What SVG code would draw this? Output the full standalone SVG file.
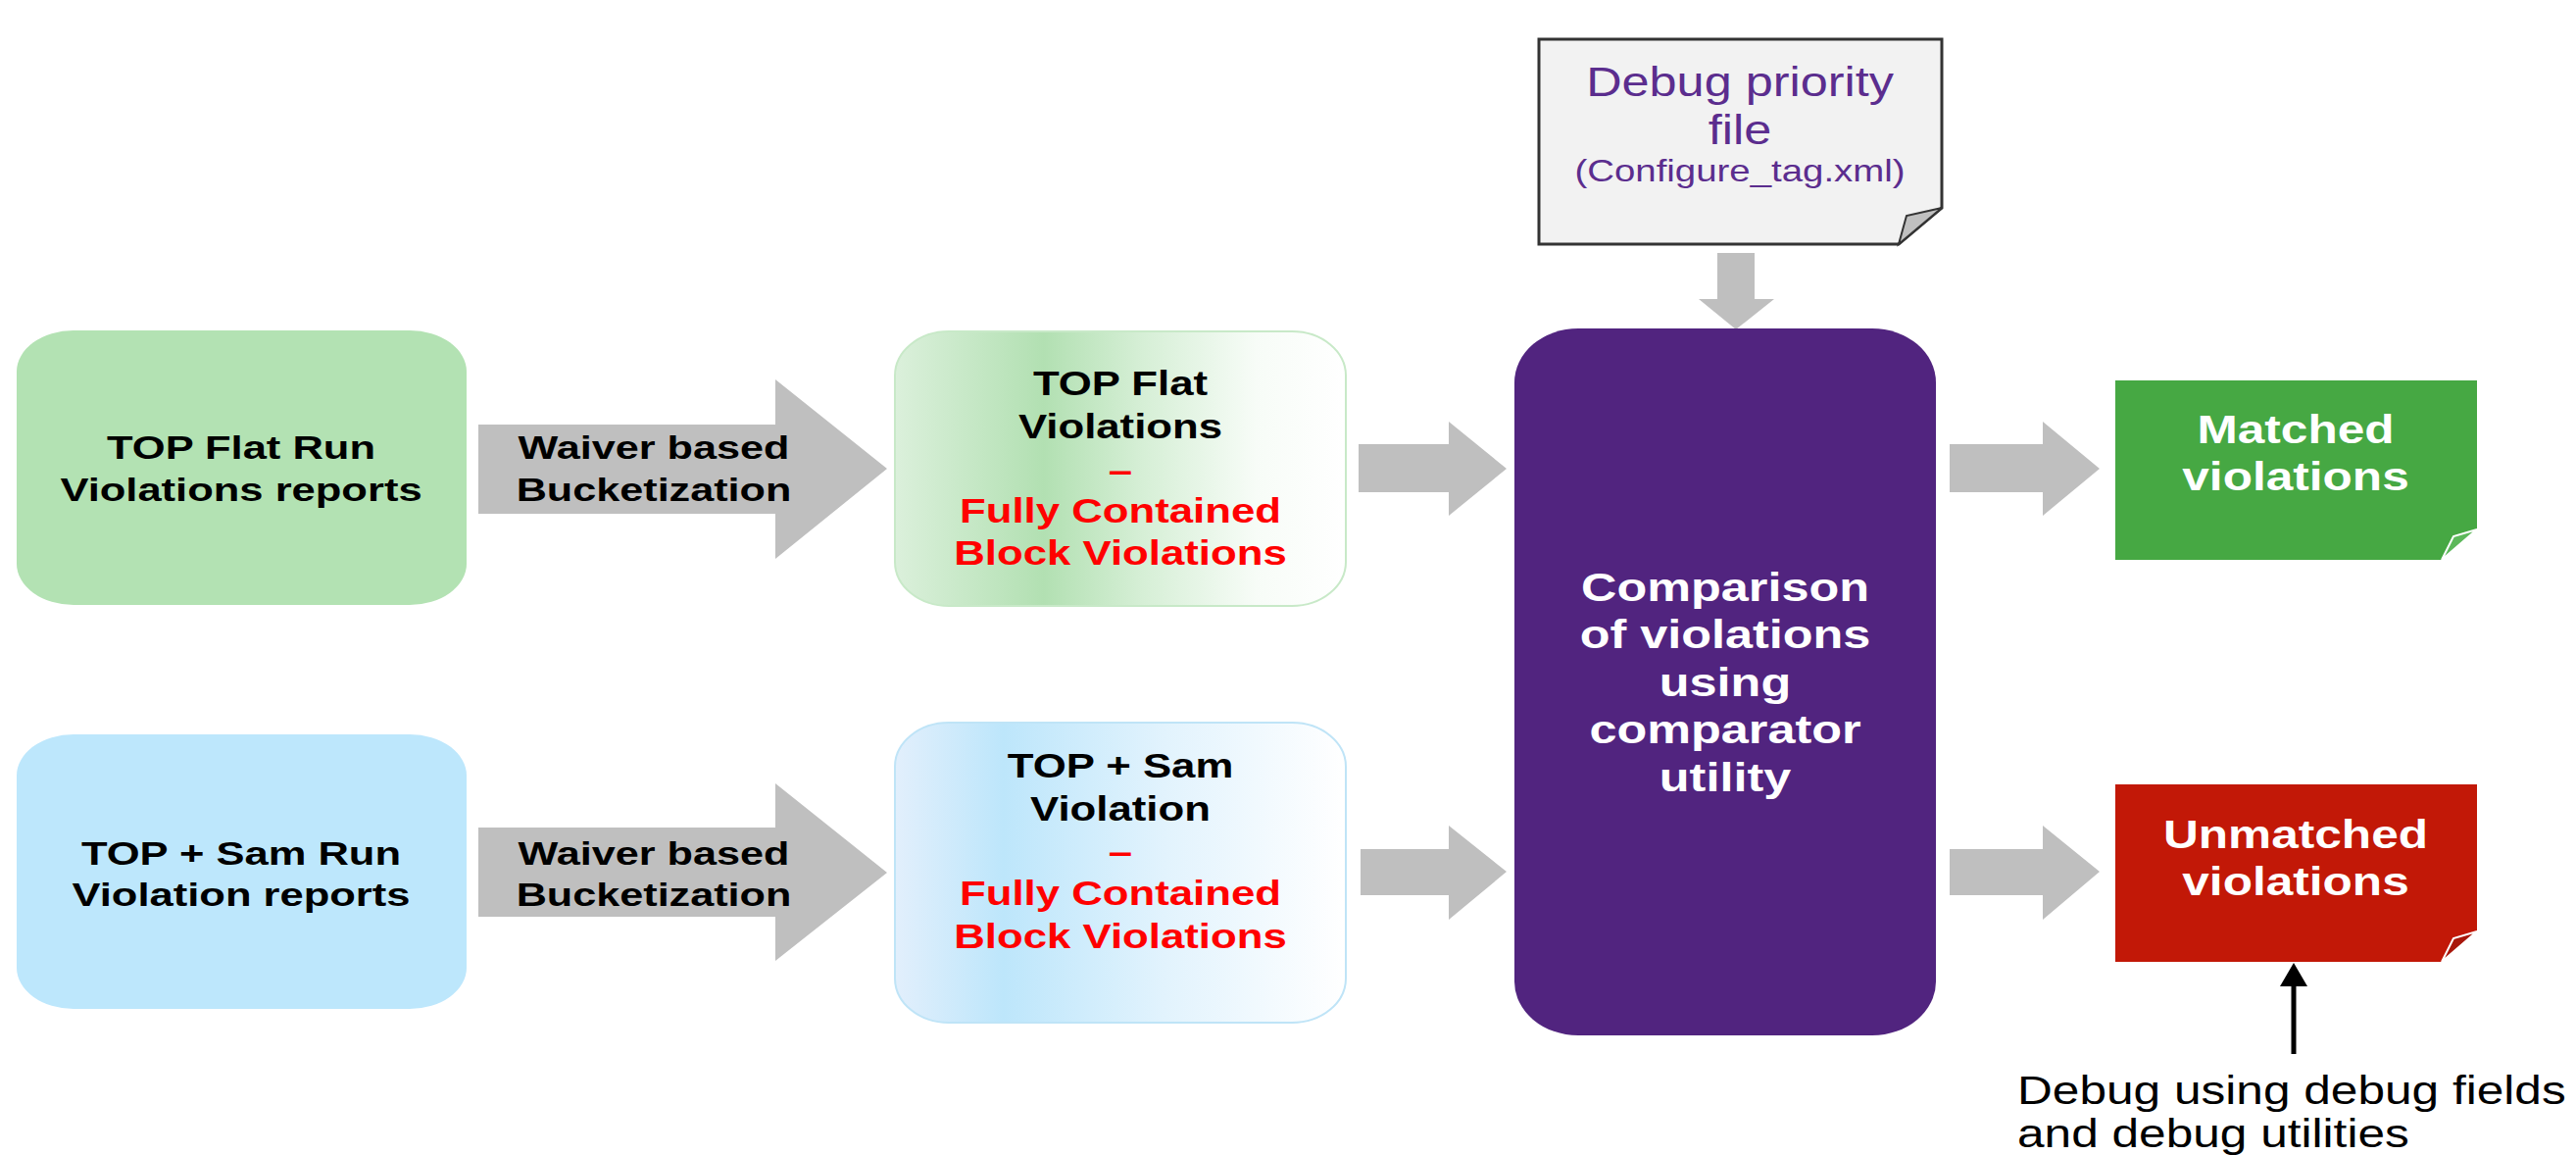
<svg xmlns="http://www.w3.org/2000/svg" width="2628" height="1178" viewBox="0 0 2628 1178">
<defs>
<linearGradient id="gGreen" x1="0" y1="0" x2="1" y2="0">
<stop offset="0" stop-color="#dbf0db"/>
<stop offset="0.33" stop-color="#b2e0b2"/>
<stop offset="0.55" stop-color="#d6efd6"/>
<stop offset="0.8" stop-color="#f7fcf7"/>
<stop offset="1" stop-color="#ffffff"/>
</linearGradient>
<linearGradient id="gBlue" x1="0" y1="0" x2="1" y2="0">
<stop offset="0" stop-color="#e2effc"/>
<stop offset="0.24" stop-color="#bde6fb"/>
<stop offset="0.6" stop-color="#e2f3fd"/>
<stop offset="1" stop-color="#ffffff"/>
</linearGradient>
</defs>
<style>
.b{font-family:"Liberation Sans",Arial,sans-serif;font-weight:bold;text-anchor:middle}
.r{font-family:"Liberation Sans",Arial,sans-serif;text-anchor:middle}
.blk{fill:#000}
.red{fill:#ff0000}
.wht{fill:#ffffff}
.pur{fill:#5b2d8e}
.garrow{fill:#bfbfbf}
</style>
<rect width="2628" height="1178" fill="#ffffff"/>

<g id="connectors">
<polygon class="garrow" points="488,433 791,433 791,387 905,478 791,570 791,524 488,524"/>
<polygon class="garrow" points="488,844 791,844 791,799 905,890 791,980 791,935 488,935"/>
<polygon class="garrow" points="1386,453 1478,453 1478,430 1537,478 1478,526 1478,502 1386,502"/>
<polygon class="garrow" points="1388,866 1478,866 1478,842 1537,889 1478,938 1478,913 1388,913"/>
<polygon class="garrow" points="1989,453 2084,453 2084,430 2142,478 2084,526 2084,502 1989,502"/>
<polygon class="garrow" points="1989,866 2084,866 2084,842 2142,889 2084,938 2084,913 1989,913"/>
<polygon class="garrow" points="1752,258 1790,258 1790,305 1810,305 1771,336 1733,305 1752,305"/>
<line x1="2340" y1="1075" x2="2340" y2="1002" stroke="#000" stroke-width="5"/>
<polygon points="2340,982 2326,1006 2354,1006" fill="#000"/>
</g>

<g id="waiver1">
<g transform="translate(667 0) scale(1.27 1)">
<text class="b blk" x="0" y="468" font-size="34">Waiver based</text>
<text class="b blk" x="0" y="511" font-size="34">Bucketization</text>
</g>
</g>
<g id="waiver2">
<g transform="translate(667 0) scale(1.27 1)">
<text class="b blk" x="0" y="882" font-size="34">Waiver based</text>
<text class="b blk" x="0" y="924" font-size="34">Bucketization</text>
</g>
</g>

<g id="topFlatRun">
<rect x="17" y="337" width="459" height="280" rx="58" ry="42" fill="#b3e2b3"/>
<g transform="translate(246 0) scale(1.28 1)">
<text class="b blk" x="0" y="468" font-size="34">TOP Flat Run</text>
<text class="b blk" x="0" y="511" font-size="34">Violations reports</text>
</g>
</g>

<g id="topSamRun">
<rect x="17" y="749" width="459" height="280" rx="58" ry="42" fill="#bde7fc"/>
<g transform="translate(246 0) scale(1.28 1)">
<text class="b blk" x="0" y="882" font-size="34">TOP + Sam Run</text>
<text class="b blk" x="0" y="924" font-size="34">Violation reports</text>
</g>
</g>

<g id="topFlatViolations">
<rect x="913" y="338" width="460" height="280" rx="55" ry="45" fill="url(#gGreen)" stroke="#c8e9c8" stroke-width="2"/>
<g transform="translate(1143 0) scale(1.25 1)">
<text class="b blk" x="0" y="403" font-size="35">TOP Flat</text>
<text class="b blk" x="0" y="447" font-size="35">Violations</text>
<text class="b red" x="0" y="492" font-size="35">–</text>
<text class="b red" x="0" y="533" font-size="35">Fully Contained</text>
<text class="b red" x="0" y="576" font-size="35">Block Violations</text>
</g>
</g>

<g id="topSamViolation">
<rect x="913" y="737" width="460" height="306" rx="55" ry="45" fill="url(#gBlue)" stroke="#bfe4f7" stroke-width="2"/>
<g transform="translate(1143 0) scale(1.25 1)">
<text class="b blk" x="0" y="793" font-size="35">TOP + Sam</text>
<text class="b blk" x="0" y="837" font-size="35">Violation</text>
<text class="b red" x="0" y="881" font-size="35">–</text>
<text class="b red" x="0" y="923" font-size="35">Fully Contained</text>
<text class="b red" x="0" y="967" font-size="35">Block Violations</text>
</g>
</g>

<g id="debugPriority">
<polygon points="1570,40 1981,40 1981,212 1937,249 1570,249" fill="#f2f2f2" stroke="#333333" stroke-width="3"/>
<polygon points="1981,212 1937,249 1945,220" fill="#c0c0c0" stroke="#333333" stroke-width="2"/>
<g transform="translate(1775 0) scale(1.2 1)">
<text class="r pur" x="0" y="98" font-size="42">Debug priority</text>
<text class="r pur" x="0" y="147" font-size="42">file</text>
<text class="r pur" x="0" y="185" font-size="32">(Configure_tag.xml)</text>
</g>
</g>

<g id="comparison">
<rect x="1545" y="335" width="430" height="721" rx="65" ry="55" fill="#51247f"/>
<g transform="translate(1760 0) scale(1.26 1)">
<text class="b wht" x="0" y="613" font-size="40">Comparison</text>
<text class="b wht" x="0" y="661" font-size="40">of violations</text>
<text class="b wht" x="0" y="710" font-size="40">using</text>
<text class="b wht" x="0" y="758" font-size="40">comparator</text>
<text class="b wht" x="0" y="807" font-size="40">utility</text>
</g>
</g>

<g id="matched">
<polygon points="2158,388 2527,388 2527,540 2491,571 2158,571" fill="#46a843"/>
<polygon points="2527,540 2491,571 2503,547" fill="#5cb85a" stroke="#ffffff" stroke-width="2"/>
<g transform="translate(2342 0) scale(1.24 1)">
<text class="b wht" x="0" y="452" font-size="40">Matched</text>
<text class="b wht" x="0" y="500" font-size="40">violations</text>
</g>
</g>

<g id="unmatched">
<polygon points="2158,800 2527,800 2527,950 2491,981 2158,981" fill="#c21807"/>
<polygon points="2527,950 2491,981 2503,957" fill="#a8160a" stroke="#ffffff" stroke-width="2"/>
<g transform="translate(2342 0) scale(1.24 1)">
<text class="b wht" x="0" y="865" font-size="40">Unmatched</text>
<text class="b wht" x="0" y="913" font-size="40">violations</text>
</g>
</g>

<g id="debugNote">
<g transform="translate(2058 0) scale(1.24 1)">
<text class="r blk" x="0" y="1126" font-size="40" style="text-anchor:start">Debug using debug fields</text>
<text class="r blk" x="0" y="1170" font-size="40" style="text-anchor:start">and debug utilities</text>
</g>
</g>
</svg>
